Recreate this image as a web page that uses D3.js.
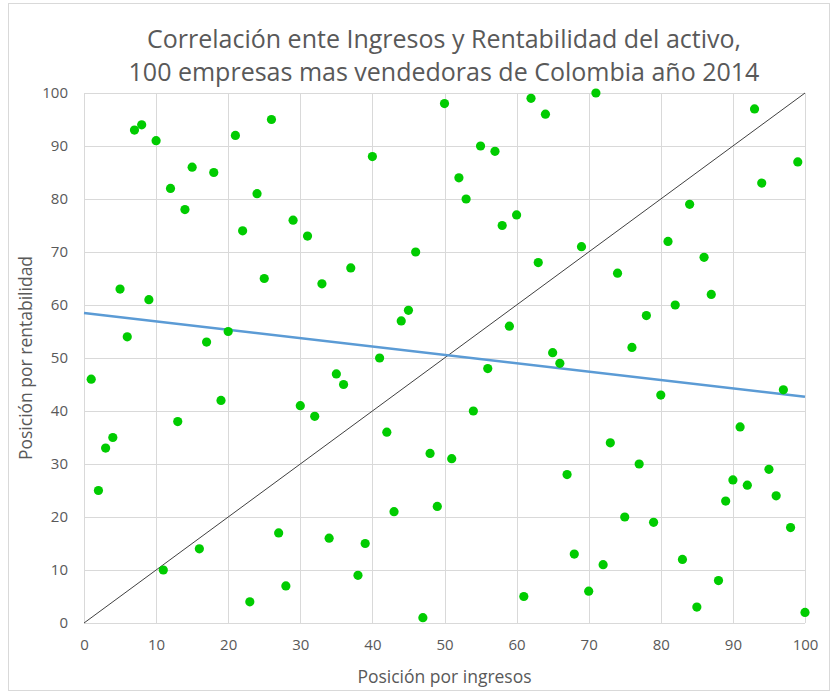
<!DOCTYPE html>
<html>
<head>
<meta charset="utf-8">
<script src="https://cdn.jsdelivr.net/npm/d3@7"></script>
<style>
  body { margin: 0; background: #fff; }
  svg { display: block; font-family: "Open Sans", "Noto Sans", sans-serif; }
</style>
</head>
<body>
<svg id="chart" width="835" height="692"></svg>
<script>
// Ranking by revenue (x) and by return on assets (y) for each company
const posIngresos = d3.range(1, 101);
const posRentabilidad = [
  46, 25, 33, 35, 63, 54, 93, 94, 61, 91,
  10, 82, 38, 78, 86, 14, 53, 85, 42, 55,
  92, 74, 4, 81, 65, 95, 17, 7, 76, 41,
  73, 39, 64, 16, 47, 45, 67, 9, 15, 88,
  50, 36, 21, 57, 59, 70, 1, 32, 22, 98,
  31, 84, 80, 40, 90, 48, 89, 75, 56, 77,
  5, 99, 68, 96, 51, 49, 28, 13, 71, 6,
  100, 11, 34, 66, 20, 52, 30, 58, 19, 43,
  72, 60, 12, 79, 3, 69, 62, 8, 23, 27,
  37, 26, 97, 83, 29, 24, 44, 18, 87, 2
];
const ticks = [0, 10, 20, 30, 40, 50, 60, 70, 80, 90, 100];
const titleLines = [
  "Correlación ente Ingresos y Rentabilidad del activo,",
  "100 empresas mas vendedoras de Colombia año 2014"
];
const xTitle = "Posición por ingresos";
const yTitle = "Posición por rentabilidad";

const svg = d3.select("#chart");
const plot = { left: 84, right: 805, top: 93, bottom: 623 };

// Chart frame
svg.append("rect")
  .attr("x", 8.5).attr("y", 3.5)
  .attr("width", 821).attr("height", 687)
  .attr("fill", "#fff").attr("stroke", "#d9d9d9").attr("stroke-width", 1);

const x = d3.scaleLinear().domain([0, 100]).range([plot.left, plot.right]);
const y = d3.scaleLinear().domain([0, 100]).range([plot.bottom, plot.top]);

// Gridlines
const grid = svg.append("g");
grid.selectAll(".gx").data(ticks).join("line")
  .attr("x1", d => Math.round(x(d)) + 0.5).attr("x2", d => Math.round(x(d)) + 0.5)
  .attr("y1", plot.top).attr("y2", plot.bottom)
  .attr("stroke", "#d9d9d9").attr("stroke-width", 1);
grid.selectAll(".gy").data(ticks).join("line")
  .attr("x1", plot.left).attr("x2", plot.right)
  .attr("y1", d => Math.round(y(d)) + 0.5).attr("y2", d => Math.round(y(d)) + 0.5)
  .attr("stroke", "#d9d9d9").attr("stroke-width", 1);

// Axes (labels only; lines come from the grid)
const xAxis = svg.append("g")
  .attr("transform", `translate(0,${plot.bottom})`)
  .call(d3.axisBottom(x).tickValues(ticks).tickSize(0).tickPadding(16));
const yAxis = svg.append("g")
  .attr("transform", `translate(${plot.left},0)`)
  .call(d3.axisLeft(y).tickValues(ticks).tickSize(0).tickPadding(16));
[xAxis, yAxis].forEach(a => {
  a.select(".domain").remove();
  a.selectAll("text")
    .attr("fill", "#595959")
    .style("font-size", "15px")
    .style("font-family", "'Open Sans', sans-serif");
});

// Reference diagonal y = x
svg.append("line")
  .attr("x1", x(0)).attr("y1", y(0)).attr("x2", x(100)).attr("y2", y(100))
  .attr("stroke", "#404040").attr("stroke-width", 1);

// Linear trend (least squares)
const data = posIngresos.map((v, i) => ({ x: v, y: posRentabilidad[i] }));
const mx = d3.mean(data, d => d.x), my = d3.mean(data, d => d.y);
const slope = d3.sum(data, d => (d.x - mx) * (d.y - my)) / d3.sum(data, d => (d.x - mx) ** 2);
const intercept = my - slope * mx;
svg.append("line")
  .attr("x1", x(0)).attr("y1", y(intercept))
  .attr("x2", x(100)).attr("y2", y(intercept + slope * 100))
  .attr("stroke", "#5b9bd5").attr("stroke-width", 2.5);

// Companies
svg.append("g").selectAll("circle").data(data).join("circle")
  .attr("cx", d => x(d.x)).attr("cy", d => y(d.y))
  .attr("r", 4.6).attr("fill", "#00cc00");

// Title
svg.append("g").selectAll("text").data(titleLines).join("text")
  .attr("x", 444).attr("y", (d, i) => 48 + i * 33)
  .attr("text-anchor", "middle")
  .attr("fill", "#595959")
  .style("font-size", "25px")
  .text(d => d);

// Axis titles
svg.append("text")
  .attr("x", (plot.left + plot.right) / 2).attr("y", 683)
  .attr("text-anchor", "middle").attr("fill", "#595959")
  .style("font-size", "17.5px").text(xTitle);
svg.append("text")
  .attr("transform", `translate(32,${(plot.top + plot.bottom) / 2}) rotate(-90)`)
  .attr("text-anchor", "middle").attr("fill", "#595959")
  .style("font-size", "17.5px").text(yTitle);
</script>
</body>
</html>
